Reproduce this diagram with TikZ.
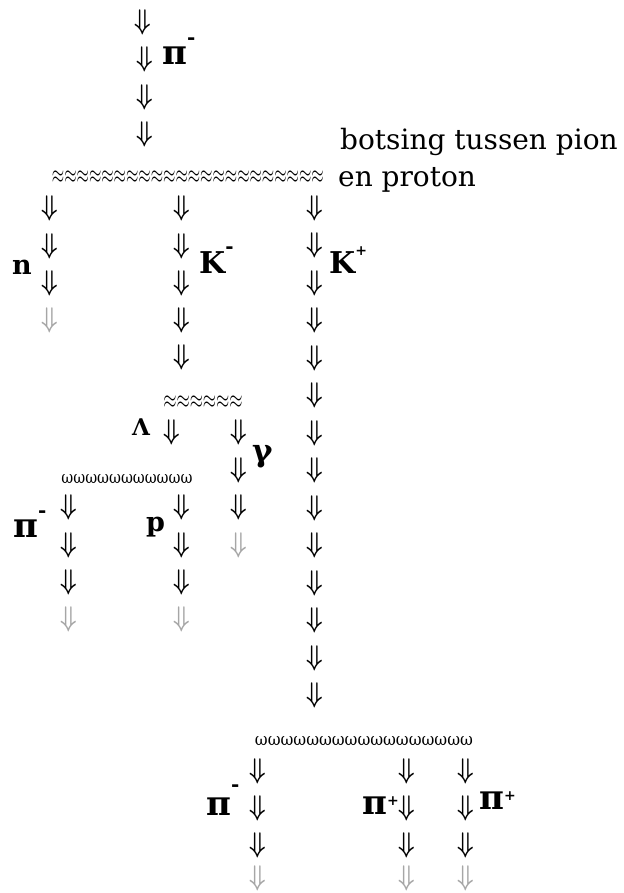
\documentclass[tikz,border=0pt]{standalone}
\usepackage{fontspec}
\usepackage{graphicx}
\usepackage{amsmath}
\setmainfont{DejaVu Serif}
\newfontfamily\symf{DejaVu Sans}
\newcommand\dn{\scalebox{2.35}[2.85]{$\boldsymbol{\Downarrow}$}}
\newcommand\upper[3]{\raisebox{#1}{\fontsize{#2}{#2}\selectfont #3}}
\newcommand\bigpi{{\fontsize{34}{34}\selectfont π}}
\tikzset{
  arr/.style={inner sep=0pt, anchor=center},
  garr/.style={arr, text=black!35},
  lbl/.style={inner sep=0pt, anchor=base west, font=\fontsize{27}{27}\selectfont\bfseries},
  txt/.style={inner sep=0pt, anchor=base west, font=\fontsize{28}{30}\selectfont},
  wave/.style={inner sep=0pt, anchor=center},
  omline/.style={inner sep=0pt, anchor=base}
}
\begin{document}
\begin{tikzpicture}[x=1pt,y=-1pt]
\useasboundingbox (0,0) rectangle (623,893);
% incoming pion
\node[arr] (t1) at (143,22) {\dn};
\node[arr] (t2) at (145,59) {\dn};
\node[arr] (t3) at (145,97) {\dn};
\node[arr] (t4) at (145,134) {\dn};
\node[lbl] (lpi0) at (162,65) {\bigpi\upper{20pt}{20}{-}};
% collision
\node[wave] (w1) at (188,177) {\scalebox{1.59}[2.6]{$\approx\approx\approx\approx\approx\approx\approx\approx\approx\approx\approx\approx\approx\approx\approx\approx\approx\approx\approx\approx\approx\approx$}};
\node[txt] (c1) at (340,150) {botsing tussen pion};
\node[txt] (c2) at (338,187) {en proton};
% neutron
\foreach \y [count=\i] in {208,246,283} \node[arr] (n\i) at (50,\y) {\dn};
\node[garr] (n4) at (50,320) {\dn};
\node[lbl] (ln) at (12,274) {n};
% K-
\foreach \y [count=\i] in {208,246,283,320,357} \node[arr] (km\i) at (182,\y) {\dn};
\node[lbl, font=\fontsize{30}{30}\selectfont\bfseries] (lkm) at (199,273) {K\upper{20pt}{20}{-}};
% K+
\foreach \y [count=\i] in {208,245.5,283,320.5,358,395.5,433,470.5,508,545.5,583,620.5,658,695.5} \node[arr] (kp\i) at (315,\y) {\dn};
\node[lbl, font=\fontsize{30}{30}\selectfont\bfseries] (lkp) at (329,273) {K\upper{18pt}{14}{+}};
% K- decay
\node[wave] (w2) at (203,402) {\scalebox{1.7}[2.6]{$\approx\approx\approx\approx\approx\approx$}};
\node[arr] (la1) at (172,432) {\dn};
\node[font=\fontsize{23}{23}\selectfont\bfseries, inner sep=0pt, anchor=base west] (lla) at (132,435) {Λ};
\foreach \y [count=\i] in {432,470,507} \node[arr] (g\i) at (239,\y) {\dn};
\node[garr] (g4) at (239,545) {\dn};
\node[lbl, font=\fontsize{31}{31}\selectfont\bfseries] (lg) at (252,461) {γ};
% Lambda decay
\node[omline] (w3) at (127,483) {\resizebox{131pt}{9pt}{ωωωωωωωωωωω}};
\foreach \y [count=\i] in {507,545,582} {
  \node[arr] (a\i) at (69,\y) {\dn};
  \node[arr] (p\i) at (182,\y) {\dn};
}
\node[garr] (a4) at (69,619) {\dn};
\node[garr] (p4) at (182,619) {\dn};
\node[lbl] (lpi1) at (13,537) {\bigpi\upper{20pt}{20}{-}};
\node[lbl] (lp) at (146,531) {p};
% K+ decay
\node[omline] (w4) at (364,745) {\resizebox{218pt}{9pt}{ωωωωωωωωωωωωωωωωω}};
\foreach \y [count=\i] in {771,808,845} {
  \node[arr] (b\i) at (258,\y) {\dn};
  \node[arr] (c\i) at (407,\y) {\dn};
  \node[arr] (d\i) at (466,\y) {\dn};
}
\node[garr] (b4) at (258,878) {\dn};
\node[garr] (c4) at (407,878) {\dn};
\node[garr] (d4) at (466,878) {\dn};
\node[lbl] (lpi2) at (206,815) {\bigpi\upper{24pt}{20}{-}};
\node[lbl] (lpi3) at (362,814) {\bigpi\upper{9pt}{14}{+}};
\node[lbl] (lpi4) at (479,809) {\bigpi\upper{9pt}{14}{+}};
\end{tikzpicture}
\end{document}
